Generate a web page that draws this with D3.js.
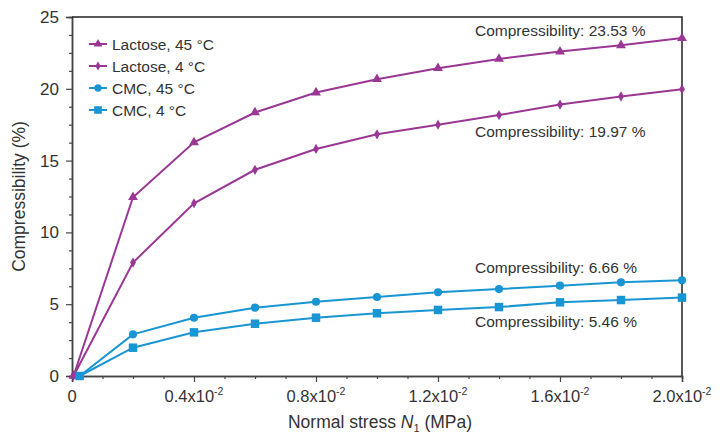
<!DOCTYPE html>
<html>
<head>
<meta charset="utf-8">
<script src="https://cdn.jsdelivr.net/npm/d3@7"></script>
<style>
  html, body { margin: 0; padding: 0; background: #fff; }
  svg { display: block; font-family: "Liberation Sans", Arial, sans-serif; }
</style>
</head>
<body>
<svg id="chart" width="728" height="435"></svg>
<script>
// Normal stress (MPa) at each measurement
const stressLactose = [0.00005, 0.002, 0.004, 0.006, 0.008, 0.010, 0.012, 0.014, 0.016, 0.018, 0.020];
const stressCMC     = [0.00025, 0.002, 0.004, 0.006, 0.008, 0.010, 0.012, 0.014, 0.016, 0.018, 0.020];

// Compressibility (%) per series
const lactose45 = [0, 12.45, 16.27, 18.35, 19.74, 20.67, 21.43, 22.08, 22.59, 23.03, 23.53];
const lactose4  = [0, 7.90, 12.03, 14.36, 15.81, 16.83, 17.50, 18.17, 18.90, 19.47, 19.97];
const cmc45     = [0, 2.90, 4.06, 4.76, 5.17, 5.50, 5.83, 6.05, 6.29, 6.52, 6.66];
const cmc4      = [0, 1.97, 3.04, 3.64, 4.06, 4.37, 4.60, 4.80, 5.13, 5.29, 5.46];

const seriesNames = ["Lactose, 45 °C", "Lactose, 4 °C", "CMC, 45 °C", "CMC, 4 °C"];

// Axis ticks
const xMajorTicks = [0, 0.004, 0.008, 0.012, 0.016, 0.020];
const xTickBase   = ["0", "0.4x10", "0.8x10", "1.2x10", "1.6x10", "2.0x10"];
const xTickSup    = ["", "-2", "-2", "-2", "-2", "-2"];
const yMajorTicks = [0, 5, 10, 15, 20, 25];

// Final-value annotations
const annotTexts = ["Compressibility: 23.53 %", "Compressibility: 19.97 %", "Compressibility: 6.66 %", "Compressibility: 5.46 %"];

const PURPLE = "#9a3795";
const BLUE = "#1995d3";
const INK = "#333";
const AXIS = "#444";

const m = { left: 72, right: 46, top: 17, bottom: 59 };
const W = 728, H = 435;
const svg = d3.select("#chart");

const x = d3.scaleLinear().domain([0, 0.02]).range([m.left, W - m.right]);
const y = d3.scaleLinear().domain([0, 25]).range([H - m.bottom, m.top]);

const series = [
  { name: seriesNames[0], xs: stressLactose, ys: lactose45, color: PURPLE, symbol: d3.symbolTriangle, size: 42 },
  { name: seriesNames[1], xs: stressLactose, ys: lactose4,  color: PURPLE, symbol: d3.symbolDiamond,  size: 30 },
  { name: seriesNames[2], xs: stressCMC,     ys: cmc45,     color: BLUE,   symbol: d3.symbolCircle,   size: 52 },
  { name: seriesNames[3], xs: stressCMC,     ys: cmc4,      color: BLUE,   symbol: d3.symbolSquare,   size: 72 }
];

// Minor ticks (every 0.001 on x, every 1.25 on y)
const xMinor = d3.range(0, 0.02001, 0.001).filter(v => !xMajorTicks.some(t => Math.abs(t - v) < 1e-9));
const yMinor = d3.range(0, 25.001, 1.25).filter(v => !yMajorTicks.some(t => Math.abs(t - v) < 1e-9));

const xAxisG = svg.append("g").attr("transform", `translate(0,${H - m.bottom})`);
xAxisG.call(d3.axisBottom(x).tickValues(xMinor).tickSize(3).tickFormat(""));
xAxisG.append("g").call(d3.axisBottom(x).tickValues(xMajorTicks).tickSize(6).tickFormat(""));
xAxisG.selectAll("path.domain").attr("stroke", AXIS).attr("stroke-width", 1.5);
xAxisG.selectAll("line").attr("stroke", AXIS).attr("stroke-width", 1.2);

const yAxisG = svg.append("g").attr("transform", `translate(${m.left},0)`);
yAxisG.call(d3.axisLeft(y).tickValues(yMinor).tickSize(3).tickFormat(""));
yAxisG.append("g").call(d3.axisLeft(y).tickValues(yMajorTicks).tickSize(6).tickFormat(""));
yAxisG.selectAll("path.domain").attr("stroke", AXIS).attr("stroke-width", 1.5);
yAxisG.selectAll("line").attr("stroke", AXIS).attr("stroke-width", 1.2);

// Frame: top and right edges
svg.append("path")
  .attr("d", `M${x(0)},${y(25)}H${x(0.02)}V${y(0)}`)
  .attr("fill", "none").attr("stroke", "#222").attr("stroke-width", 1.5);

// Y tick labels
svg.append("g").selectAll("text").data(yMajorTicks).join("text")
  .attr("x", m.left - 13).attr("y", d => y(d) + 6)
  .attr("text-anchor", "end").attr("font-size", 17).attr("fill", INK)
  .text(d => d);

// X tick labels with superscript exponent, whole label centred on its tick
const xl = svg.append("g");
xMajorTicks.forEach((t, i) => {
  const lab = xl.append("text")
    .attr("x", x(t)).attr("y", 402)
    .attr("text-anchor", "middle").attr("font-size", 16.5).attr("fill", INK);
  lab.append("tspan").text(xTickBase[i]);
  if (xTickSup[i]) {
    lab.append("tspan").attr("font-size", 10.5).attr("dy", -7).text(xTickSup[i]);
  }
});

// Axis titles
svg.append("text")
  .attr("transform", `translate(25,${(y(0) + y(25)) / 2}) rotate(-90)`)
  .attr("text-anchor", "middle").attr("font-size", 17.5).attr("fill", INK)
  .text("Compressibility (%)");

const xt = svg.append("text")
  .attr("x", (x(0) + x(0.02)) / 2 + 3).attr("y", 428)
  .attr("text-anchor", "middle").attr("font-size", 17.5).attr("fill", INK);
xt.append("tspan").text("Normal stress ");
xt.append("tspan").attr("font-style", "italic").text("N");
xt.append("tspan").attr("font-size", 11).attr("dy", 4).text("1");
xt.append("tspan").attr("dy", -4).text(" (MPa)");

// Series lines and markers
const line = d3.line().x(d => x(d[0])).y(d => y(d[1]));
series.forEach(s => {
  const pts = s.xs.map((v, i) => [v, s.ys[i]]);
  svg.append("path").datum(pts)
    .attr("d", line).attr("fill", "none")
    .attr("stroke", s.color).attr("stroke-width", 2);
  svg.append("g").selectAll("path").data(pts).join("path")
    .attr("transform", d => `translate(${x(d[0])},${y(d[1])})`)
    .attr("d", d3.symbol(s.symbol, s.size))
    .attr("fill", s.color);
});

// Legend
const legend = svg.append("g").attr("transform", "translate(89,44)");
series.forEach((s, i) => {
  const g = legend.append("g").attr("transform", `translate(0,${i * 22})`);
  g.append("line").attr("x1", 0).attr("x2", 18).attr("y1", 0).attr("y2", 0)
    .attr("stroke", s.color).attr("stroke-width", 2);
  g.append("path").attr("transform", "translate(9,0)")
    .attr("d", d3.symbol(s.symbol, s.size * 0.8)).attr("fill", s.color);
  g.append("text").attr("x", 23).attr("y", 5.5)
    .attr("font-size", 15.5).attr("fill", INK).text(s.name);
});

// Final-value annotations
const annotY = [36, 137, 273, 327];
svg.append("g").selectAll("text").data(annotTexts).join("text")
  .attr("x", 475).attr("y", (d, i) => annotY[i])
  .attr("font-size", 15.5).attr("fill", INK)
  .text(d => d);
</script>
</body>
</html>
